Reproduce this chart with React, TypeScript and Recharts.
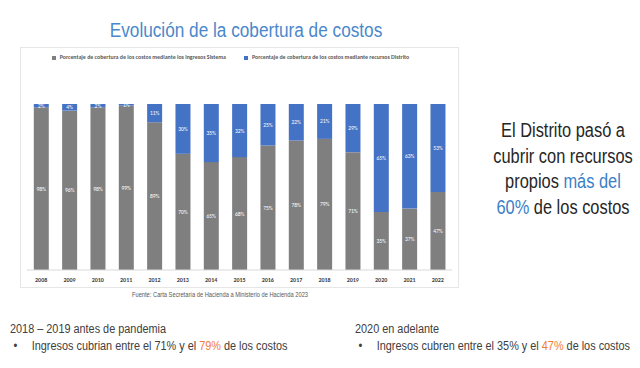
import React from 'react';
import { BarChart, Bar, XAxis, YAxis, Legend, LabelList } from 'recharts';

const years = ['2008', '2009', '2010', '2011', '2012', '2013', '2014', '2015', '2016', '2017', '2018', '2019', '2020', '2021', '2022'];
const sistema = [98, 96, 98, 99, 89, 70, 65, 68, 75, 78, 79, 71, 35, 37, 47];
const distrito = [2, 4, 2, 1, 11, 30, 35, 32, 25, 22, 21, 29, 65, 63, 53];

const SANS = "'Liberation Sans', Arial, sans-serif";
const CHART_FONT = "Carlito, Calibri, 'Liberation Sans', sans-serif";

const data = years.map((year, i) => ({ year, sistema: sistema[i], distrito: distrito[i] }));

const pct = (v: any) => `${v}%`;

// squeeze Liberation Sans into something close to Arial Narrow
const Narrow = ({ children, origin = 'left', scale = 0.82, style }: { children: React.ReactNode; origin?: string; scale?: number; style?: React.CSSProperties }) => (
  <div style={{ whiteSpace: 'nowrap', transform: `scaleX(${scale})`, transformOrigin: origin, ...style }}>{children}</div>
);

export default function App() {
  return (
    <div style={{ position: 'absolute', left: 0, top: 0, width: 640, height: 368, background: '#fff', fontFamily: SANS, overflow: 'hidden' }}>
      <Narrow origin="center" scale={0.86} style={{ position: 'absolute', left: 0, width: 492, top: 19, textAlign: 'center', fontSize: 20, color: '#4a88cb' }}>
        Evolución de la cobertura de costos
      </Narrow>

      <div style={{ position: 'absolute', left: 20, top: 47, width: 437, height: 239, border: '1px solid #e6e6e6' }}>
        <BarChart width={437} height={239} data={data} margin={{ top: 48, right: 6, bottom: 3, left: 6 }} barCategoryGap="24%">
          <XAxis
            dataKey="year"
            tickLine={false}
            axisLine={{ stroke: '#d9d9d9' }}
            height={14}
            interval={0}
            tick={{ fontSize: 6, fontWeight: 700, fill: '#404040', fontFamily: CHART_FONT }}
          />
          <YAxis hide domain={[0, 100]} />
          <Legend
            verticalAlign="top"
            align="center"
            iconType="square"
            iconSize={4}
            wrapperStyle={{ top: 5, fontSize: 5.9, fontWeight: 700, fontFamily: CHART_FONT }}
            formatter={(value: any) => <span style={{ color: '#595959', marginRight: 8 }}>{value}</span>}
          />
          <Bar dataKey="sistema" stackId="a" fill="#7f7f7f" name="Porcentaje de cobertura de los costos mediante los ingresos Sistema" isAnimationActive={false}>
            <LabelList dataKey="sistema" position="center" formatter={pct} fill="#fff" fontSize={5.5} fontFamily={CHART_FONT} />
          </Bar>
          <Bar dataKey="distrito" stackId="a" fill="#4472c4" name="Porcentaje de cobertura de los costos mediante recursos Distrito" isAnimationActive={false}>
            <LabelList dataKey="distrito" position="center" formatter={pct} fill="#fff" fontSize={5.5} fontFamily={CHART_FONT} />
          </Bar>
        </BarChart>
      </div>

      <Narrow origin="center" style={{ position: 'absolute', left: 20, width: 400, top: 291, textAlign: 'center', fontSize: 7, color: '#595959' }}>
        Fuente: Carta Secretaría de Hacienda a Ministerio de Hacienda 2023
      </Narrow>

      <Narrow origin="center" style={{ position: 'absolute', left: 463, width: 200, top: 118, textAlign: 'center', fontSize: 20, lineHeight: '25.5px', color: '#262626' }}>
        El Distrito pasó a<br />
        cubrir con recursos<br />
        propios <span style={{ color: '#3c7fc7' }}>más del</span><br />
        <span style={{ color: '#3c7fc7' }}>60%</span> de los costos
      </Narrow>

      <Narrow scale={0.87} style={{ position: 'absolute', left: 10, top: 321, fontSize: 12.5, lineHeight: '17px', color: '#404040' }}>
        <div>2018 – 2019 antes de pandemia</div>
        <div><span style={{ display: 'inline-block', width: 21, paddingLeft: 4 }}>•</span>Ingresos cubrian entre el 71% y el <span style={{ color: '#ef7d3a' }}>79%</span> de los costos</div>
      </Narrow>
      <Narrow scale={0.87} style={{ position: 'absolute', left: 355, top: 321, fontSize: 12.5, lineHeight: '17px', color: '#404040' }}>
        <div>2020 en adelante</div>
        <div><span style={{ display: 'inline-block', width: 21, paddingLeft: 4 }}>•</span>Ingresos cubren entre el 35% y el <span style={{ color: '#ef7d3a' }}>47%</span> de los costos</div>
      </Narrow>
    </div>
  );
}
